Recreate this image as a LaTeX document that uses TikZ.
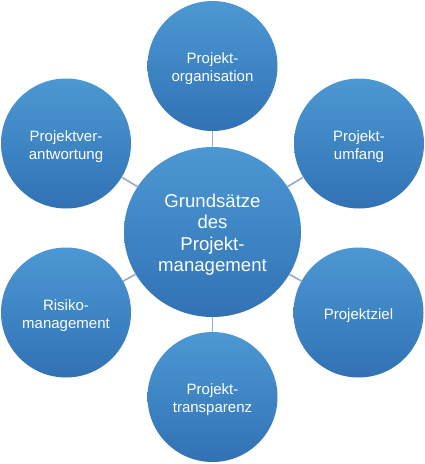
\documentclass[tikz,border=0pt]{standalone}
\usepackage{fontspec}
\setmainfont{Liberation Sans}
\usetikzlibrary{shapes.geometric}
\definecolor{btop}{HTML}{4C98D3}
\definecolor{bbot}{HTML}{3172B5}
\definecolor{conn}{HTML}{93ABC8}
\tikzset{
  outer/.style={circle, minimum size=130pt, inner sep=0pt, top color=btop, bottom color=bbot, draw=none},
  otext/.style={text=white, align=center, font=\fontsize{15}{18}\selectfont, yshift=-3pt},
  hub/.style={ellipse, minimum width=177pt, minimum height=170pt, inner sep=0pt, top color=btop, bottom color=bbot, draw=none},
  htext/.style={text=white, align=center, font=\fontsize{18.6}{21.5}\selectfont, yshift=-2.5pt},
  link/.style={draw=conn, line width=1.6pt}
}
\begin{document}
\begin{tikzpicture}[x=1pt,y=-1pt]
\useasboundingbox (0,0) rectangle (425,464);
\node[hub, label={[htext]center:{Grundsätze\\des\\Projekt-\\management}}] (c) at (212.5,232) {};
\node[outer, label={[otext]center:{Projekt-\\organisation}}] (top) at (212.5,66) {};
\node[outer, label={[otext]center:{Projektver-\\antwortung}}] (tl) at (66,143.5) {};
\node[outer, label={[otext]center:{Projekt-\\umfang}}] (tr) at (359,143.5) {};
\node[outer, label={[otext]center:{Risiko-\\management}}] (bl) at (66,312.5) {};
\node[outer, label={[otext]center:{Projektziel}}] (br) at (358.5,312.5) {};
\node[outer, label={[otext]center:{Projekt-\\transparenz}}] (bot) at (212.5,397) {};
\foreach \n in {top,tl,tr,bl,br,bot} \draw[link] (c) -- (\n);
\end{tikzpicture}
\end{document}
